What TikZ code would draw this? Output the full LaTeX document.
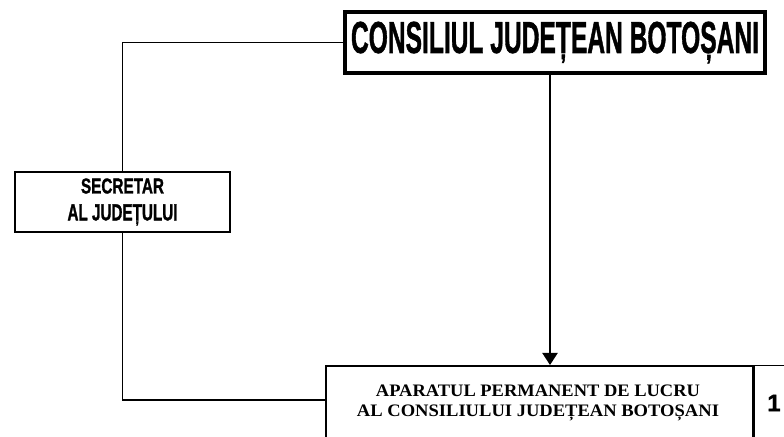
\documentclass[tikz,border=0pt]{standalone}
\usepackage{fontspec}
\setmainfont{Liberation Serif}
\newfontfamily\condsans[BoldFeatures={FakeBold=1.5}]{Liberation Sans}
\usetikzlibrary{arrows.meta}

\begin{document}
\begin{tikzpicture}[
  box/.style = {shape=rectangle, draw, align=center, inner sep=0pt},
  link/.style = {draw, line width=1.1pt},
  arrowtip/.style = {-{Triangle[width=0.38cm,length=0.3cm]}}
  ]
  \useasboundingbox (0,0) rectangle (19.6,10.925);
  % boxes
  \node[box, line width=2.2pt, minimum width=10.5cm, minimum height=1.525cm]
    (consiliu) at (13.875,9.8625)
    {\resizebox{10.2cm}{0.78cm}{\condsans\bfseries CONSILIUL JUDEȚEAN BOTOȘANI}};
  \node[box, line width=1.6pt, minimum width=5.375cm, minimum height=1.5cm,
    font=\fontsize{10}{19.2}\selectfont]
    (secretar) at (3.0625,5.875)
    {\resizebox{2.075cm}{0.375cm}{\condsans\bfseries SECRETAR}\\
     \resizebox{2.75cm}{0.4cm}{\condsans\bfseries AL JUDEȚULUI}};
  \node[box, line width=1.4pt, anchor=north west, minimum width=10.675cm,
    minimum height=2.8cm] (aparat) at (8.125,1.8) {};
  \node[box, line width=1pt, anchor=north west, minimum width=1.7cm,
    minimum height=2.8cm] (nr) at (aparat.north east) {};
  \node[align=center, font=\fontsize{10}{14.2}\selectfont] (titlu) at (13.45,0.86)
    {\resizebox{8.1cm}{0.29cm}{\bfseries APARATUL PERMANENT DE LUCRU}\\
     \resizebox{9.05cm}{0.29cm}{\bfseries AL CONSILIULUI JUDEȚEAN BOTOȘANI}};
  \node[font=\condsans\bfseries\fontsize{17}{19}\selectfont] (unu) at (19.35,0.85) {1};
  % connectors
  \coordinate (cx) at (13.75,0);
  \coordinate (intrare) at (8.125,0.925);
  \draw[link] (consiliu.west) -| (secretar.north);
  \draw[link] (secretar.south) |- (intrare);
  \draw[link, arrowtip] (consiliu.south -| cx) -- (aparat.north -| cx);
\end{tikzpicture}
\end{document}
